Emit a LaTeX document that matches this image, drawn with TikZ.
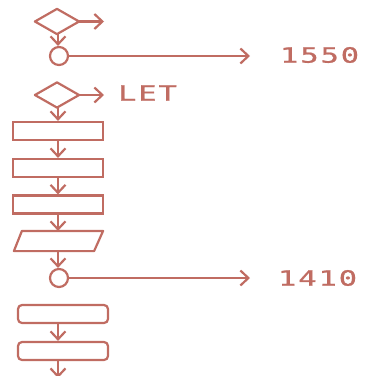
\documentclass[tikz,border=0pt]{standalone}
\usepackage{fontspec}
\newfontfamily\dotfont[FakeStretch=1.45,LetterSpace=9,FakeBold=1]{DejaVu Sans Mono}
\usetikzlibrary{shapes.geometric,arrows.meta}
\definecolor{ink}{RGB}{192,108,98}
\begin{document}
\begin{tikzpicture}[x=1pt,y=-1pt,
  every node/.style={draw=ink,line width=2.2pt,inner sep=0pt},
  conn/.style={draw=ink,line width=2.2pt,-{Straight Barb[length=8pt,width=15pt,line width=2.2pt]}},
  decbase/.style={rectangle,draw=none,minimum width=42pt,minimum height=23pt},
  joint/.style={circle,minimum size=18pt},
  box/.style={rectangle,minimum width=90pt,minimum height=18pt},
  rbox/.style={rectangle,rounded corners=4pt,minimum width=90pt,minimum height=18pt},
  iobase/.style={rectangle,draw=none,minimum width=87pt,minimum height=18pt},
  outline/.style={draw=ink,line width=2.2pt,line join=round},
  lbl/.style={draw=none,text=ink,font=\dotfont\fontsize{21}{21}\selectfont}]
\useasboundingbox (0,0) rectangle (379,375);
\node[decbase] (d1) at (57,21.5) {};
\draw[outline] (d1.north) -- (d1.east) -- (d1.south) -- (d1.west) -- cycle;
\node[joint] (c1) at (59,56) {};
\node[decbase] (d2) at (57,95) {};
\draw[outline] (d2.north) -- (d2.east) -- (d2.south) -- (d2.west) -- cycle;
\node[box] (r1) at (58,131) {};
\node[box] (r2) at (58,168) {};
\node[box] (r3) at (58,204.5) {};
\node[iobase] (p1) at (58.5,241) {};
\draw[outline] ([xshift=8pt]p1.north west) -- (p1.north east) -- ([xshift=-9pt]p1.south east) -- (p1.south west) -- cycle;
\node[joint] (c2) at (59,278) {};
\node[rbox] (q1) at (63,314) {};
\node[rbox] (q2) at (63,351) {};
\coordinate (e1) at (104,21.5);
\coordinate (e2) at (104,95);
\coordinate (f1) at (250,56);
\coordinate (f2) at (250,278);
\coordinate (g) at (58,378);
\node[lbl,anchor=west] (t1) at (279,55) {1550};
\node[lbl,anchor=west] (t2) at (117,93) {LET};
\node[lbl,anchor=west] (t3) at (277,278) {1410};
\draw[conn] (d1.east) -- (e1);
\draw[conn] (d2.east) -- (e2);
\draw[conn] (c1.east) -- (f1);
\draw[conn] (c2.east) -- (f2);
\draw[conn] (d1.south -| 58,0) -- (c1.north -| 58,0);
\draw[conn] (d2.south -| 58,0) -- (r1.north);
\draw[conn] (r1.south) -- (r2.north);
\draw[conn] (r2.south) -- (r3.north);
\draw[conn] (r3.south) -- (p1.north -| 58,0);
\draw[conn] (p1.south -| 58,0) -- (c2.north -| 58,0);
\draw[conn] (q1.south -| 58,0) -- (q2.north -| 58,0);
\draw[conn] (q2.south -| 58,0) -- (g);
\end{tikzpicture}
\end{document}
